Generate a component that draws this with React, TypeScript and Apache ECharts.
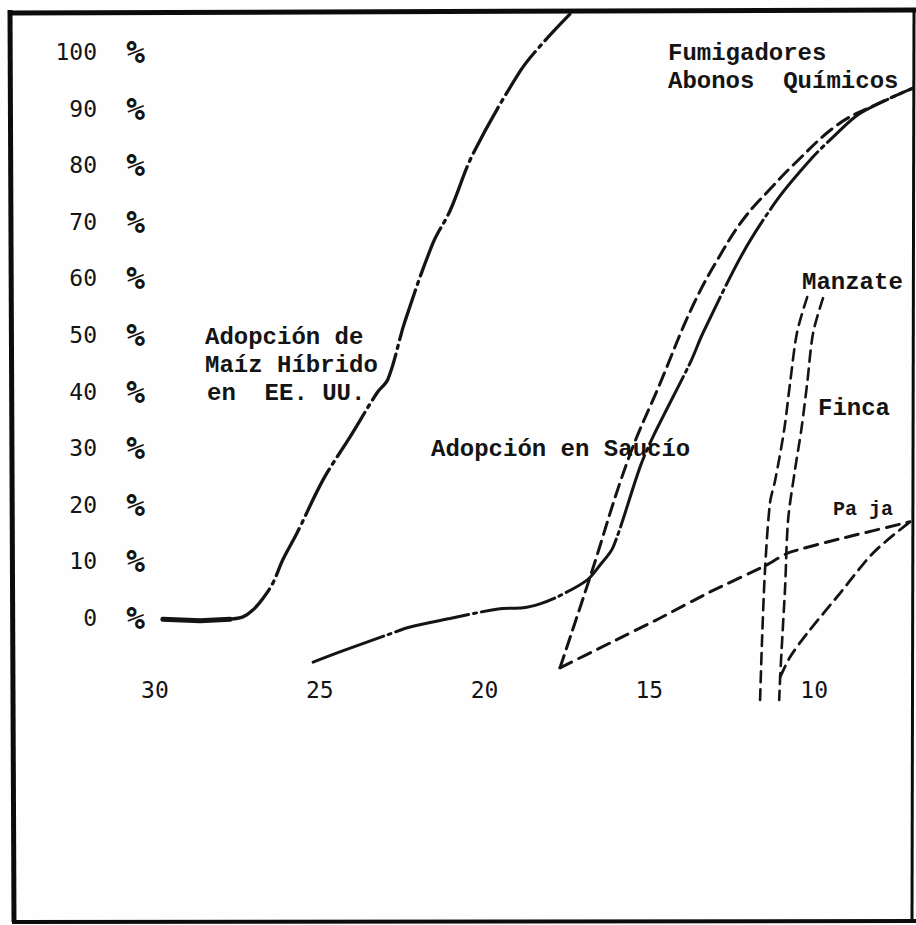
import React, { useEffect, useRef } from "react";
import * as echarts from "echarts";

// ---- axis ticks ----
const yTickValues = [0, 10, 20, 30, 40, 50, 60, 70, 80, 90, 100];
const xTickValues = [30, 25, 20, 15, 10];

// ---- series (x = años, y = % de adopción) ----
const maizInicioX = [29.76, 28.63, 27.72];
const maizInicioY = [-0.2, -0.5, -0.2];

const maizX = [27.72, 27.33, 27.03, 26.72, 26.42, 26.12, 25.69, 24.9, 24.08, 23.26, 22.93, 22.41, 21.56, 21.05, 20.35, 18.92, 18.23, 17.41];
const maizY = [-0.2, 0.2, 1.4, 3.5, 6.2, 10.3, 15.0, 24.4, 32.0, 39.8, 42.2, 52.5, 66.3, 71.9, 82.0, 96.6, 101.6, 106.7];

const abonosX = [25.2, 24.39, 22.96, 22.26, 21.05, 19.59, 18.83, 18.32, 17.8, 16.89, 16.49, 16.1, 15.28, 14.89, 13.76, 13.37, 12.16, 11.12, 10.06, 9.42, 8.6, 7.0];
const abonosY = [-7.8, -6.0, -3.0, -1.6, -0.1, 1.6, 1.8, 2.5, 3.7, 6.7, 9.4, 12.5, 26.7, 32.0, 45.1, 50.4, 64.5, 73.9, 81.3, 85.0, 89.2, 93.6];

const fumigadoresX = [17.71, 16.8, 15.65, 14.67, 13.67, 12.76, 12.1, 11.3, 10.64, 9.3, 8.09, 7.0];
const fumigadoresY = [-8.8, 7.2, 27.9, 41.5, 55.3, 65.0, 70.8, 76.0, 80.0, 87.1, 90.8, 93.6];

const pajaX = [17.71, 16.19, 14.67, 13.16, 11.43, 10.79, 9.21, 7.09];
const pajaY = [-8.8, -4.4, 0.0, 4.6, 9.4, 11.5, 14.0, 17.0];

const manzateX = [10.21, 10.52, 10.73, 10.91, 11.18, 11.34, 11.49, 11.58, 11.64];
const manzateY = [56.7, 50.4, 41.5, 33.2, 24.4, 20.3, 8.5, -3.9, -14.5];

const fincaX = [9.73, 10.03, 10.21, 10.39, 10.58, 10.79, 10.88, 10.97, 11.03, 11.06];
const fincaY = [56.5, 50.4, 41.5, 33.2, 26.2, 17.3, 5.5, -3.9, -10.4, -14.5];

const fincaCurvaX = [11.03, 10.73, 10.21, 9.21, 8.21, 7.09];
const fincaCurvaY = [-10.4, -6.9, -2.7, 4.4, 11.5, 17.0];

const zip = (xs: number[], ys: number[]) => xs.map((x, i) => [x, ys[i]]);

const INK = "#141414";
const MONO = '"Liberation Mono", "DejaVu Sans Mono", monospace';
const AXISFONT = '"DejaVu Sans Mono", "DejaVu Sans", monospace';

function lineSeries(name: string, data: number[][], type: any, width: number, smooth = 0.3) {
  return {
    name,
    type: "line",
    data,
    showSymbol: false,
    symbol: "none",
    smooth,
    clip: false,
    silent: true,
    lineStyle: { color: INK, width, type, cap: "round" },
    emphasis: { disabled: true },
  };
}

function txt(text: string, x: number, y: number, size = 24) {
  return {
    type: "text",
    x,
    y,
    silent: true,
    style: {
      text,
      fill: INK,
      font: `bold ${size}px ${MONO}`,
      textVerticalAlign: "middle",
      textAlign: "left",
    },
  };
}

function frameLine(x1: number, y1: number, x2: number, y2: number, w: number) {
  return {
    type: "line",
    silent: true,
    shape: { x1, y1, x2, y2 },
    style: { stroke: "#0c0c0c", lineWidth: w },
  };
}

export default function App() {
  const ref = useRef<HTMLDivElement>(null);

  useEffect(() => {
    if (!ref.current) return;
    const chart = echarts.init(ref.current, null, { renderer: "svg" });
    chart.setOption({
      animation: false,
      backgroundColor: "#fefefe",
      grid: { left: 122, right: 3, top: 52, bottom: 307 },
      xAxis: {
        type: "value",
        inverse: true,
        min: 7,
        max: 31,
        interval: 1,
        axisLine: { show: false },
        axisTick: { show: false },
        splitLine: { show: false },
        axisLabel: {
          margin: 60,
          color: INK,
          fontFamily: AXISFONT,
          fontSize: 23,
          formatter: (v: number) => (xTickValues.includes(v) ? String(v) : ""),
        },
      },
      yAxis: {
        type: "value",
        min: 0,
        max: 100,
        interval: 10,
        offset: -27,
        axisLine: { show: false },
        axisTick: { show: false },
        splitLine: { show: false },
        axisLabel: {
          margin: 4,
          color: INK,
          formatter: (v: number) => (yTickValues.includes(v) ? `{n|${v}}{p|%}` : ""),
          rich: {
            n: { width: 42, align: "right", fontFamily: AXISFONT, fontSize: 23, color: INK },
            p: {
              width: 48,
              align: "right",
              fontFamily: AXISFONT,
              fontSize: 31,
              fontStyle: "italic",
              fontWeight: "bold",
              color: INK,
            },
          },
        },
      },
      series: [
        lineSeries("Maíz Híbrido (inicio)", zip(maizInicioX, maizInicioY), "solid", 5, 0),
        lineSeries("Adopción de Maíz Híbrido en EE. UU.", zip(maizX, maizY), [52, 6, 3, 6], 3.3, 0.35),
        lineSeries("Abonos Químicos", zip(abonosX, abonosY), [75, 5, 3, 5], 3),
        lineSeries("Fumigadores", zip(fumigadoresX, fumigadoresY), [13, 7], 3, 0.4),
        lineSeries("Paja", zip(pajaX, pajaY), [13, 8], 3, 0.2),
        lineSeries("Manzate", zip(manzateX, manzateY), [11, 7], 2.6),
        lineSeries("Finca", zip(fincaX, fincaY), [11, 7], 2.6),
        lineSeries("Finca (curva)", zip(fincaCurvaX, fincaCurvaY), [12, 7], 2.8),
      ],
      graphic: [
        frameLine(10, 10, 14, 922, 5),
        frameLine(8, 13, 916, 10, 5),
        frameLine(914, 9, 912, 922, 3),
        frameLine(12, 922, 916, 921, 4),
        txt("Adopción de", 205, 337),
        txt("Maíz Híbrido", 205, 365),
        txt("en  EE. UU.", 207, 393),
        txt("Adopción en Saucío", 431, 449),
        txt("Fumigadores", 668, 53),
        txt("Abonos  Químicos", 668, 81),
        txt("Manzate", 802, 282),
        txt("Finca", 818, 408),
        txt("Pa ja", 833, 509, 20),
      ],
    });
    return () => chart.dispose();
  }, []);

  return (
    <div
      ref={ref}
      style={{ position: "fixed", left: 0, top: 0, width: 916, height: 925 }}
    />
  );
}
